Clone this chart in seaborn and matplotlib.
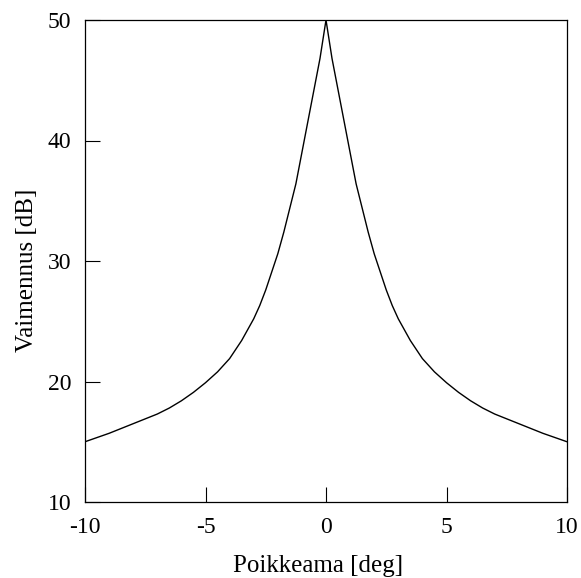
import numpy as np
import pandas as pd
import matplotlib
matplotlib.use("Agg")
import matplotlib.pyplot as plt
import seaborn as sns

# ============================================================
# Data
# ============================================================

angle_deg = [
    -10.0, -9.5, -9.0, -8.5, -8.0, -7.5, -7.0, -6.5, -6.0, -5.5,
    -5.0, -4.5, -4.0, -3.5, -3.0, -2.75, -2.5, -2.25, -2.0, -1.75,
    -1.5, -1.25, -1.0, -0.75, -0.5, -0.25, 0.0,
    0.25, 0.5, 0.75, 1.0, 1.25, 1.5, 1.75, 2.0, 2.25, 2.5,
    2.75, 3.0, 3.5, 4.0, 4.5, 5.0, 5.5, 6.0, 6.5, 7.0,
    7.5, 8.0, 8.5, 9.0, 9.5, 10.0,
]
attenuation_db = [
    15.0, 15.35, 15.7, 16.1, 16.5, 16.9, 17.3, 17.8, 18.4, 19.1,
    19.9, 20.8, 21.9, 23.4, 25.2, 26.3, 27.6, 29.1, 30.6, 32.4,
    34.4, 36.4, 39.0, 41.6, 44.2, 46.8, 50.0,
    46.8, 44.2, 41.6, 39.0, 36.4, 34.4, 32.4, 30.6, 29.1, 27.6,
    26.3, 25.2, 23.4, 21.9, 20.8, 19.9, 19.1, 18.4, 17.8, 17.3,
    16.9, 16.5, 16.1, 15.7, 15.35, 15.0,
]

x_ticks = [-10, -5, 0, 5, 10]
y_ticks = [10, 20, 30, 40, 50]

# ============================================================
# Plot
# ============================================================

sns.set_theme(style="white")
plt.rcParams["font.family"] = "serif"
plt.rcParams["font.serif"] = ["Liberation Serif", "DejaVu Serif"]

df = pd.DataFrame({"angle": angle_deg, "att": attenuation_db})

fig = plt.figure(figsize=(5.81, 5.78), dpi=100)
ax = fig.add_axes([85 / 581, 1 - 502 / 578, (567 - 85) / 581, (502 - 20) / 578])

sns.lineplot(data=df, x="angle", y="att", ax=ax, color="black", linewidth=1.0, sort=False)

ax.set_xlim(-10, 10)
ax.set_ylim(10, 50)
ax.set_xticks(x_ticks)
ax.set_yticks(y_ticks)
ax.set_xticklabels([str(t) for t in x_ticks])
ax.set_yticklabels([str(t) for t in y_ticks])

ax.tick_params(axis="both", direction="in", length=11, width=0.8, color="black",
               labelsize=17, labelcolor="black")
ax.tick_params(axis="x", pad=11)
ax.tick_params(axis="y", pad=10)
ax.tick_params(top=False, right=False, bottom=True, left=True)

for side in ["top", "bottom", "left", "right"]:
    ax.spines[side].set_visible(True)
    ax.spines[side].set_color("black")
    ax.spines[side].set_linewidth(0.9)

ax.set_xlabel("Poikkeama [deg]", fontsize=18, color="black", labelpad=12)
ax.set_ylabel("Vaimennus [dB]", fontsize=18, color="black", labelpad=7)
# labels sit a bit off-centre in the reference
ax.xaxis.label.set_x(0.484)
ax.yaxis.label.set_y(0.481)
ax.grid(False)

fig.savefig("out.png", dpi=100, facecolor="white")
plt.close(fig)
